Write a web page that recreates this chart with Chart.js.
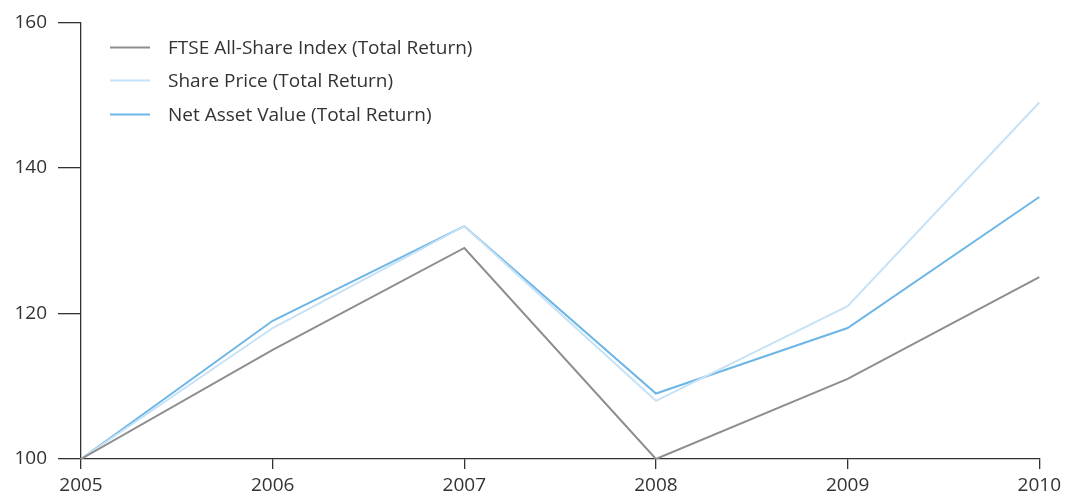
<!DOCTYPE html>
<html>
<head>
<meta charset="utf-8">
<script src="https://cdn.jsdelivr.net/npm/chart.js@4/dist/chart.umd.min.js"></script>
<style>
html,body{margin:0;padding:0;background:#fff;}
#wrap{width:1066px;height:498px;position:relative;}
</style>
</head>
<body>
<div id="wrap"><canvas id="c" width="1066" height="498"></canvas></div>
<script>
const years = ['2005','2006','2007','2008','2009','2010'];
const ftse = [100, 115, 129, 100, 111, 125];
const sharePrice = [100, 118, 132, 108, 121, 149];
const nav = [100, 119, 132, 109, 118, 136];
const seriesNames = ['FTSE All-Share Index (Total Return)', 'Share Price (Total Return)', 'Net Asset Value (Total Return)'];
const seriesColors = ['#8e8e90', '#c6e2f6', '#6db6e6'];

const FONT = "'Open Sans', sans-serif";
const TEXT = '#333333';

const legendPlugin = {
  id: 'customLegend',
  afterDraw(chart) {
    const ctx = chart.ctx;
    const rows = [47.5, 80.5, 114.5];
    ctx.save();
    ctx.font = "19px " + FONT;
    ctx.textBaseline = 'middle';
    ctx.fillStyle = TEXT;
    chart.data.datasets.forEach((ds, i) => {
      const y = rows[i];
      ctx.strokeStyle = ds.borderColor;
      ctx.lineWidth = 2;
      ctx.beginPath();
      ctx.moveTo(110, y);
      ctx.lineTo(150, y);
      ctx.stroke();
      ctx.fillText(ds.label, 168, y + 1);
    });
    ctx.restore();
  }
};

new Chart(document.getElementById('c'), {
  type: 'line',
  data: {
    labels: years,
    datasets: [
      {label: seriesNames[0], data: ftse, borderColor: seriesColors[0]},
      {label: seriesNames[1], data: sharePrice, borderColor: seriesColors[1]},
      {label: seriesNames[2], data: nav, borderColor: seriesColors[2]}
    ]
  },
  options: {
    responsive: false,
    animation: false,
    events: [],
    layout: {padding: {left: 0, right: 25, top: 22, bottom: 0}},
    elements: {
      line: {borderWidth: 2, tension: 0, fill: false},
      point: {radius: 0}
    },
    plugins: {legend: {display: false}, tooltip: {enabled: false}},
    scales: {
      x: {
        type: 'category',
        offset: false,
        border: {color: TEXT, width: 1.3},
        grid: {drawOnChartArea: false, drawTicks: true, tickLength: 10, color: TEXT, lineWidth: 1.3},
        ticks: {color: TEXT, font: {family: FONT, size: 19}, padding: 5, maxRotation: 0, autoSkip: false},
        afterFit(s) { s.height = 39; }
      },
      y: {
        min: 100, max: 160,
        border: {color: TEXT, width: 1.3},
        grid: {drawOnChartArea: false, drawTicks: true, tickLength: 23, color: TEXT, lineWidth: 1.3},
        ticks: {stepSize: 20, color: TEXT, font: {family: FONT, size: 19}, padding: 11},
        afterFit(s) { s.width = 81; }
      }
    }
  },
  plugins: [legendPlugin]
});
</script>
</body>
</html>
